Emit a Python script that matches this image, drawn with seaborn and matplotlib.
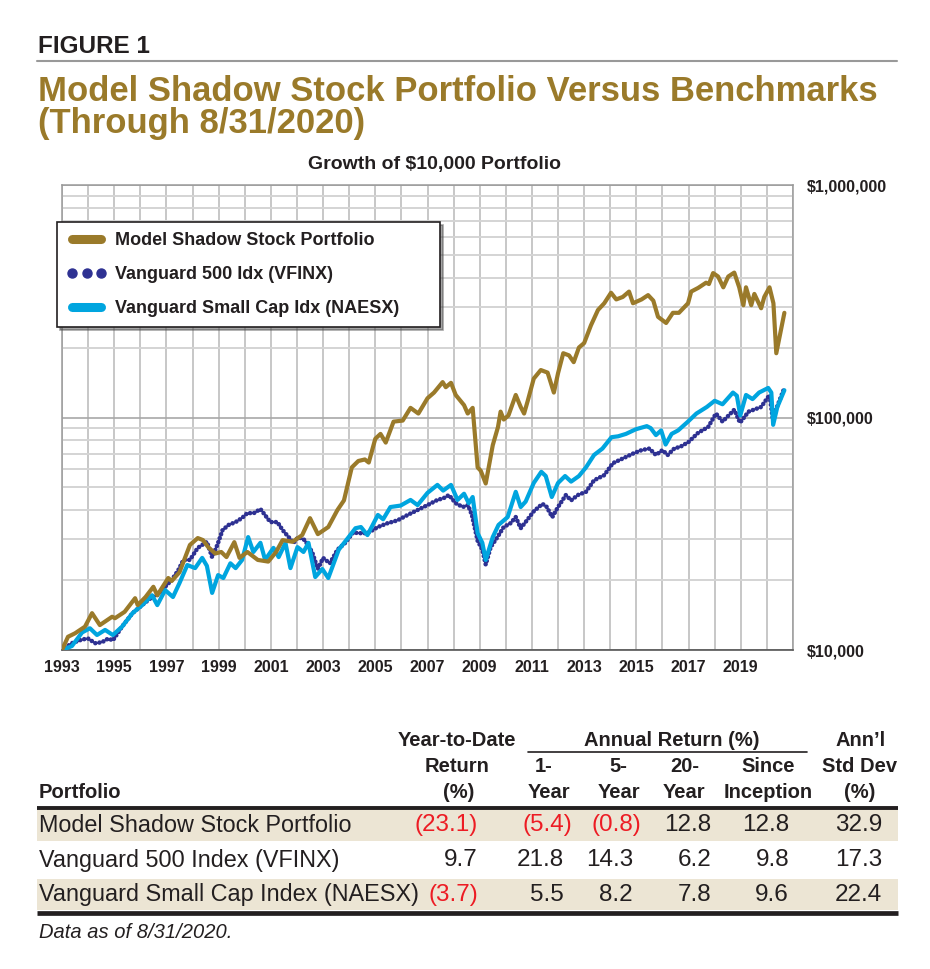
# Model Shadow Stock Portfolio vs benchmarks - growth of $10,000 + returns table
import numpy as np
import pandas as pd
import seaborn as sns
import matplotlib
matplotlib.use("Agg")
import matplotlib.pyplot as plt
from matplotlib.lines import Line2D
from matplotlib.patches import Rectangle
from matplotlib.ticker import LogLocator, NullFormatter
from matplotlib import font_manager

# growth of $10,000, values in $ thousands
mssp_year = [1993.00, 1993.23, 1993.50, 1993.88, 1994.15, 1994.45, 1994.92, 1995.03, 1995.40, 1995.80,
             1995.90, 1996.20, 1996.50, 1996.65, 1997.07, 1997.20, 1997.50, 1997.90, 1998.20, 1998.40,
             1998.60, 1998.87, 1999.10, 1999.30, 1999.60, 1999.80, 2000.10, 2000.50, 2000.90, 2001.20,
             2001.45, 2001.83, 2002.20, 2002.50, 2002.80, 2003.20, 2003.55, 2003.80, 2004.10, 2004.35,
             2004.60, 2004.75, 2005.00, 2005.20, 2005.40, 2005.70, 2006.05, 2006.35, 2006.65, 2007.00,
             2007.25, 2007.58, 2007.70, 2007.90, 2008.08, 2008.40, 2008.54, 2008.73, 2008.92, 2009.04,
             2009.23, 2009.50, 2009.70, 2009.80, 2009.92, 2010.10, 2010.38, 2010.57, 2010.70, 2010.84,
             2011.07, 2011.34, 2011.60, 2011.84, 2012.00, 2012.20, 2012.42, 2012.60, 2012.80, 2013.00,
             2013.26, 2013.53, 2013.77, 2014.03, 2014.23, 2014.48, 2014.72, 2014.87, 2015.20, 2015.45,
             2015.65, 2015.83, 2016.14, 2016.40, 2016.63, 2016.98, 2017.10, 2017.37, 2017.67, 2017.78,
             2017.94, 2018.13, 2018.33, 2018.52, 2018.75, 2018.94, 2019.10, 2019.20, 2019.40, 2019.52,
             2019.78, 2019.90, 2020.10, 2020.25, 2020.36, 2020.67]
mssp_val = [10.0, 11.4, 11.8, 12.6, 14.4, 12.8, 13.9, 13.7, 14.6, 16.7,
            15.6, 16.9, 18.7, 17.2, 20.4, 19.8, 21.6, 28.3, 30.3, 29.7,
            27.7, 26.0, 26.4, 25.1, 29.1, 24.9, 26.4, 24.4, 24.0, 26.4,
            29.7, 29.2, 31.2, 36.9, 31.5, 33.8, 40.0, 44.0, 61, 65,
            66, 64, 81, 85, 78, 96, 97, 110, 104, 121,
            128, 142, 135, 141, 125, 113, 104, 110, 61, 59,
            52, 76, 91, 106, 98, 102, 125, 111, 104, 118,
            147, 160, 156, 128, 155, 189, 185, 173, 200, 209,
            249, 290, 310, 344, 322, 330, 348, 310, 322, 336,
            318, 271, 255, 282, 282, 310, 348, 361, 380, 375,
            418, 404, 363, 404, 420, 363, 304, 363, 304, 340,
            295, 330, 363, 310, 189, 282]

vfinx_year = [1993.00, 1993.38, 1993.77, 1994.00, 1994.27, 1994.53, 1994.77, 1994.95, 1995.30, 1995.70,
              1996.07, 1996.45, 1996.68, 1996.95, 1997.20, 1997.45, 1997.65, 1997.90, 1998.20, 1998.55,
              1998.75, 1998.95, 1999.15, 1999.38, 1999.65, 1999.90, 2000.10, 2000.35, 2000.60, 2000.78,
              2000.98, 2001.25, 2001.45, 2001.68, 2001.87, 2002.05, 2002.30, 2002.58, 2002.80, 2003.00,
              2003.26, 2003.55, 2003.85, 2004.15, 2004.40, 2004.70, 2005.10, 2005.47, 2005.85, 2006.24,
              2006.62, 2007.00, 2007.38, 2007.62, 2007.82, 2008.08, 2008.35, 2008.55, 2008.70, 2008.92,
              2009.10, 2009.23, 2009.42, 2009.68, 2009.92, 2010.18, 2010.38, 2010.57, 2010.84, 2011.07,
              2011.40, 2011.55, 2011.78, 2012.00, 2012.30, 2012.50, 2012.76, 2013.07, 2013.38, 2013.77,
              2014.10, 2014.50, 2014.88, 2015.20, 2015.50, 2015.75, 2016.00, 2016.20, 2016.45, 2016.70,
              2017.00, 2017.37, 2017.75, 2018.05, 2018.30, 2018.75, 2018.97, 2019.30, 2019.78, 2020.10,
              2020.22, 2020.40, 2020.67]
vfinx_val = [10.0, 10.7, 11.1, 11.2, 10.7, 10.8, 11.2, 11.0, 12.6, 14.4,
             15.6, 16.9, 17.3, 18.7, 20.0, 22.0, 24.4, 24.4, 27.5, 29.2,
             25.1, 28.3, 32.8, 34.5, 35.5, 37.0, 38.8, 38.8, 40.4, 38.0,
             35.5, 35.5, 32.8, 30.6, 28.9, 30.6, 29.7, 26.4, 22.3, 24.9,
             23.6, 27.0, 28.9, 32.0, 31.8, 31.8, 33.8, 35.1, 36.1, 38.1,
             40.0, 42.0, 44.2, 45.0, 46.4, 42.8, 41.2, 42.0, 38.1, 29.5,
             27.0, 23.3, 27.7, 30.6, 33.8, 35.1, 37.3, 33.4, 36.5, 39.5,
             42.5, 41.5, 37.3, 41.2, 46.4, 44.0, 46.4, 47.9, 53.7, 56.5,
             63.6, 66.8, 70.0, 72.4, 73.5, 69.0, 72.4, 69.0, 73.5, 75.0,
             78.5, 86.0, 91.0, 104, 96, 108, 95, 106, 111, 125,
             100, 112, 134]

naesx_year = [1993.00, 1993.38, 1993.77, 1994.07, 1994.34, 1994.65, 1994.95, 1995.30, 1995.70, 1996.07,
              1996.45, 1996.65, 1996.95, 1997.25, 1997.50, 1997.80, 1998.10, 1998.37, 1998.55, 1998.75,
              1998.98, 1999.18, 1999.45, 1999.65, 1999.90, 2000.13, 2000.33, 2000.60, 2000.78, 2001.10,
              2001.30, 2001.56, 2001.75, 2002.02, 2002.25, 2002.44, 2002.70, 2002.97, 2003.20, 2003.60,
              2003.98, 2004.24, 2004.45, 2004.70, 2005.10, 2005.30, 2005.58, 2005.97, 2006.35, 2006.62,
              2007.00, 2007.38, 2007.60, 2007.90, 2008.15, 2008.40, 2008.58, 2008.73, 2008.92, 2009.10,
              2009.23, 2009.50, 2009.72, 2010.07, 2010.38, 2010.57, 2010.76, 2011.07, 2011.36, 2011.53,
              2011.76, 2012.00, 2012.27, 2012.50, 2012.80, 2013.07, 2013.38, 2013.70, 2014.05, 2014.30,
              2014.60, 2014.98, 2015.40, 2015.55, 2015.75, 2015.95, 2016.12, 2016.35, 2016.60, 2016.95,
              2017.30, 2017.70, 2018.00, 2018.30, 2018.70, 2018.85, 2018.98, 2019.20, 2019.45, 2019.70,
              2020.05, 2020.17, 2020.24, 2020.40, 2020.67]
naesx_val = [10.0, 10.4, 11.9, 12.4, 11.6, 12.2, 11.6, 12.6, 14.4, 15.6,
             17.2, 15.6, 18.1, 16.9, 19.4, 23.2, 22.5, 24.9, 23.0, 17.6,
             21.0, 20.4, 23.6, 22.5, 24.4, 30.6, 26.4, 28.9, 24.4, 27.5,
             25.1, 28.9, 22.5, 27.7, 26.4, 28.9, 20.6, 22.3, 20.4, 27.0,
             30.6, 33.4, 33.8, 31.2, 38.1, 36.5, 41.2, 41.8, 44.2, 42.0,
             47.4, 51.3, 48.5, 51.3, 44.2, 47.0, 42.8, 45.5, 31.8, 28.9,
             24.4, 30.6, 34.5, 37.3, 47.9, 41.2, 43.5, 52.3, 58.4, 56.0,
             45.5, 52.3, 56.0, 53.0, 56.0, 61.0, 69.0, 73.5, 82.3, 83.0,
             85.0, 89.0, 91.8, 90.0, 84.0, 88.0, 76.5, 85.0, 88.0, 95.4,
             104, 111, 118, 114, 128, 124, 102, 125, 120, 128,
             134, 128, 93, 111, 131]

series_names = ['Model Shadow Stock Portfolio', 'Vanguard 500 Idx (VFINX)', 'Vanguard Small Cap Idx (NAESX)']
year_labels = list(range(1993, 2020, 2))

# returns table
portfolios = ['Model Shadow Stock Portfolio', 'Vanguard 500 Index (VFINX)', 'Vanguard Small Cap Index (NAESX)']
ytd_ret = [-23.1, 9.7, -3.7]
ret_1yr = [-5.4, 21.8, 5.5]
ret_5yr = [-0.8, 14.3, 8.2]
ret_20yr = [12.8, 6.2, 7.8]
ret_incep = [12.8, 9.8, 9.6]
std_dev = [32.9, 17.3, 22.4]

GOLD = '#9a7a2a'
BLUE = '#2e3192'
CYAN = '#00a5df'
INK = '#231f20'
RED = '#ed1c24'
BEIGE = '#ece5d4'

sns.set_style('white')
names = {f.name for f in font_manager.fontManager.ttflist}
main_font = 'Liberation Sans' if 'Liberation Sans' in names else 'DejaVu Sans'
plt.rcParams['font.family'] = [main_font, 'DejaVu Sans']
plt.rcParams['text.color'] = INK

W, H = 930, 969
fig = plt.figure(figsize=(W / 100, H / 100), dpi=100)

# overlay in pixel coordinates for titles and the table
ov = fig.add_axes([0, 0, 1, 1])
ov.set_xlim(0, W)
ov.set_ylim(H, 0)
ov.axis('off')

ov.text(38, 53, 'FIGURE 1', fontsize=17.5, fontweight='bold', va='baseline', color=INK)
ov.plot([37, 897], [61, 61], color='#999999', lw=1.5)
ov.text(38, 101, 'Model Shadow Stock Portfolio Versus Benchmarks', fontsize=24.9,
        fontweight='bold', va='baseline', color=GOLD)
ov.text(38, 133, '(Through 8/31/2020)', fontsize=24.9, fontweight='bold', va='baseline', color=GOLD)
ov.text(434, 164, 'Growth of $10,000 Portfolio', fontsize=14, fontweight='bold', ha='center', va='center')

# ---- chart
ax = fig.add_axes([62 / W, 1 - 650 / H, (793 - 62) / W, (650 - 185) / H])
frames = [
    pd.DataFrame({'year': vfinx_year, 'value': np.array(vfinx_val) * 1000}),
    pd.DataFrame({'year': naesx_year, 'value': np.array(naesx_val) * 1000}),
    pd.DataFrame({'year': mssp_year, 'value': np.array(mssp_val) * 1000}),
]
sns.lineplot(data=frames[0], x='year', y='value', ax=ax, color=BLUE, lw=3.3, estimator=None,
             linestyle=(0, (0.01, 0.9)), dash_capstyle='round', zorder=3)
sns.lineplot(data=frames[1], x='year', y='value', ax=ax, color=CYAN, lw=3.0, estimator=None, zorder=4)
sns.lineplot(data=frames[2], x='year', y='value', ax=ax, color=GOLD, lw=3.0, estimator=None, zorder=5)

ax.set_yscale('log')
ax.set_ylim(1e4, 1e6)
ax.set_xlim(1993, 2021)
ax.set_xlabel('')
ax.set_ylabel('')
ax.set_xticks(range(1993, 2022))
ax.set_xticklabels([str(y) if y in year_labels else '' for y in range(1993, 2022)],
                   fontsize=11.5, fontweight='bold', color=INK)
ax.yaxis.tick_right()
ax.set_yticks([1e4, 1e5, 1e6])
ax.set_yticklabels(['$10,000', '$100,000', '$1,000,000'], fontsize=11.5, fontweight='bold', color=INK)
ax.yaxis.set_minor_locator(LogLocator(base=10, subs=range(2, 10)))
ax.yaxis.set_minor_formatter(NullFormatter())
ax.tick_params(axis='y', which='both', length=0, pad=10)
ax.tick_params(axis='x', which='major', length=3.5, width=1, color='#555555', pad=3.5, direction='out')
ax.grid(axis='x', which='major', color='#b8b8b8', lw=1.1)
ax.grid(axis='y', which='major', color='#a8a8a8', lw=1.2)
ax.grid(axis='y', which='minor', color='#d4d4d4', lw=1.4)
for side in ['top', 'left', 'right']:
    ax.spines[side].set_color('#9a9a9a')
    ax.spines[side].set_linewidth(1.1)
ax.spines['bottom'].set_color('#555555')
ax.spines['bottom'].set_linewidth(1.2)

handles = [
    Line2D([], [], color=GOLD, lw=6.5, solid_capstyle='round'),
    Line2D([], [], color=BLUE, linestyle='none', marker='o', markersize=6.5),
    Line2D([], [], color=CYAN, lw=6.5, solid_capstyle='round'),
]
leg = ax.legend(handles, series_names, loc='upper left', bbox_to_anchor=(-0.007, 0.0, 0.524, 0.920),
                mode='expand', numpoints=3, frameon=True, fancybox=False, shadow=True,
                prop={'weight': 'bold', 'size': 13}, borderpad=0.55, labelspacing=0.95,
                handlelength=2.2, handletextpad=0.45, borderaxespad=0)
leg.get_frame().set_edgecolor(INK)
leg.get_frame().set_linewidth(1.2)
for t in leg.get_texts():
    t.set_color(INK)
leg.set_zorder(10)

# ---- table
ov.add_patch(Rectangle((37, 809), 861, 32, color=BEIGE, lw=0))
ov.add_patch(Rectangle((37, 879), 861, 31, color=BEIGE, lw=0))
ov.plot([37, 898], [807.5, 807.5], color=INK, lw=2.8, solid_capstyle='butt')
ov.plot([37, 898], [913, 913], color=INK, lw=3.4, solid_capstyle='butt')
ov.plot([528, 807], [752, 752], color=INK, lw=1.2)

hdr = dict(fontsize=14.5, fontweight='bold', va='center', color=INK)
ov.text(516, 740, 'Year-to-Date', ha='right', **hdr)
ov.text(672, 740, 'Annual Return (%)', ha='center', **hdr)
ov.text(861, 740, 'Ann\u2019l', ha='center', **hdr)
ov.text(489, 767, 'Return', ha='right', **hdr)
for cx, lab in zip([544, 618, 685, 768, 860], ['1-', '5-', '20-', 'Since', 'Std Dev']):
    ov.text(cx, 767, lab, ha='center', **hdr)
ov.text(39, 793, 'Portfolio', ha='left', **hdr)
ov.text(474, 793, '(%)', ha='right', **hdr)
for cx, lab in zip([549, 619, 684, 768, 860], ['Year', 'Year', 'Year', 'Inception', '(%)']):
    ov.text(cx, 793, lab, ha='center', **hdr)

row_y = [825, 860, 895]
cols = [(ytd_ret, 478, False), (ret_1yr, 564, True), (ret_5yr, 633, True),
        (ret_20yr, 711, True), (ret_incep, 789, True), (std_dev, 882, True)]
for i, name in enumerate(portfolios):
    ov.text(39, row_y[i], name, fontsize=16.8, ha='left', va='center', color=INK)
    for vals, xr, hang in cols:
        v = vals[i]
        if v < 0:
            ov.text(xr + (8 if hang else 0), row_y[i], '(%.1f)' % abs(v), fontsize=17.5,
                    ha='right', va='center', color=RED)
        else:
            ov.text(xr, row_y[i], '%.1f' % v, fontsize=17.5, ha='right', va='center', color=INK)

ov.text(39, 933, 'Data as of 8/31/2020.', fontsize=14.5, fontstyle='italic', ha='left', va='center', color=INK)

fig.savefig('out.png', dpi=100)
